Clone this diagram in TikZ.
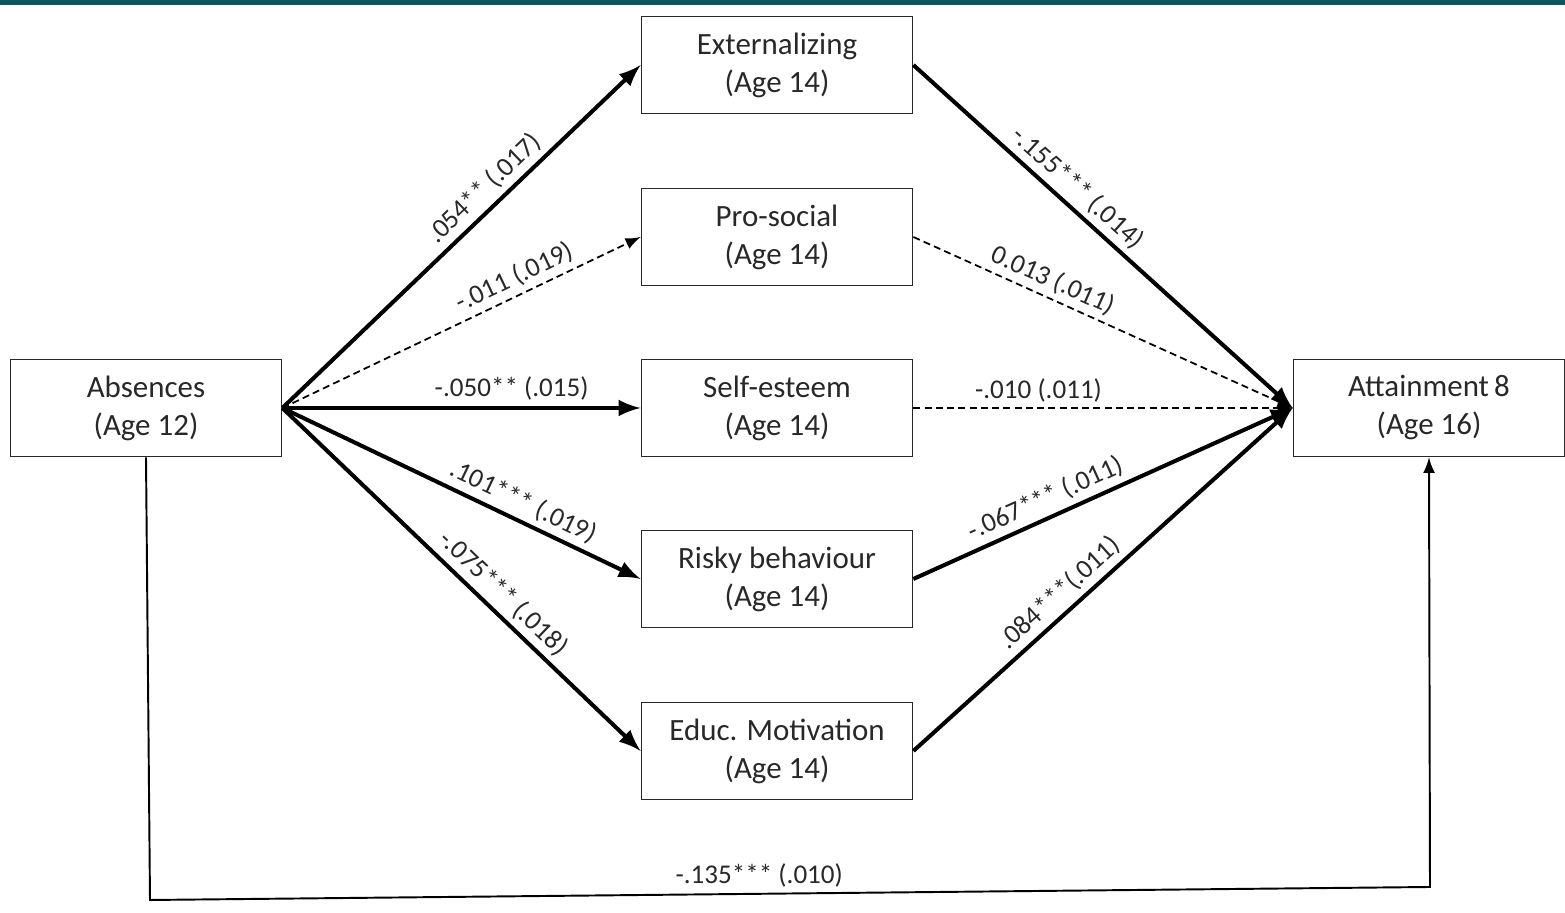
\documentclass[tikz,border=0pt]{standalone}
\usepackage{fontspec}
\setmainfont{Carlito}
\usetikzlibrary{arrows}
\definecolor{barteal}{RGB}{11,85,92}
\definecolor{inkgray}{RGB}{40,40,40}

\begin{document}
\begin{tikzpicture}[x=0.01cm,y=-0.01cm]

  %Styles for picture
  \tikzset
  {
  box/.style={rectangle, draw=inkgray, line width=0.45pt, minimum width=2.71cm, minimum height=0.97cm, inner sep=0pt, align=center, text=inkgray, font=\fontsize{8.8}{10.8}\selectfont},
  strong/.style={->, >=latex, line width=1.15pt},
  weak/.style={->, >=latex, line width=0.5pt, dash pattern=on 2pt off 1.2pt},
  coef/.style={inner sep=1.5pt, text=inkgray, font=\fontsize{7.7}{9}\selectfont},
  }

  \useasboundingbox (0,0) rectangle (1565,913);
  \fill[barteal] (0,0) rectangle (1565,5);

  % Nodes
  \node[box] (abs) at (146,408) {Absences\\(Age 12)};
  \node[box] (ext) at (777,65) {Externalizing\\(Age 14)};
  \node[box] (pro) at (777,237) {Pro-social\\(Age 14)};
  \node[box] (self) at (777,408) {Self-esteem\\(Age 14)};
  \node[box] (risk) at (777,579) {Risky behaviour\\(Age 14)};
  \node[box] (educ) at (777,751) {Educ. Motivation\\(Age 14)};
  \node[box] (att) at (1429,408) {Attainment\,8\\(Age 16)};
  \coordinate (cl) at (150,900);
  \coordinate (cr) at (1430,887);

  % Edges
  \draw[strong] (abs.east) -- node[coef, sloped, above, pos=0.6] {.054** (.017)} (ext.west);
  \draw[weak] (abs.east) -- node[coef, sloped, above, pos=0.67] {-.011 (.019)} (pro.west);
  \draw[strong] (abs.east) -- node[coef, above, pos=0.64] {-.050** (.015)} (self.west);
  \draw[strong] (abs.east) -- node[coef, sloped, above, pos=0.65] {.101*** (.019)} (risk.west);
  \draw[strong] (abs.east) -- node[coef, sloped, above, pos=0.58] {-.075*** (.018)} (educ.west);

  \draw[strong] (ext.east) -- node[coef, sloped, above, pos=0.4] {-.155*** (.014)} (att.west);
  \draw[weak] (pro.east) -- node[coef, sloped, above, pos=0.35] {0.013 (.011)} (att.west);
  \draw[weak] (self.east) -- node[coef, above, pos=0.33] {-.010 (.011)} (att.west);
  \draw[strong] (risk.east) -- node[coef, sloped, above, pos=0.37] {-.067*** (.011)} (att.west);
  \draw[strong] (educ.east) -- node[coef, sloped, above, pos=0.42] {.084***(.011)} (att.west);

  \draw[->, >=latex, line width=0.55pt] (abs.south) -- (cl) -- node[coef, above, pos=0.476] {-.135*** (.010)} (cr) -- (att.south); % direct path
\end{tikzpicture}
\end{document}
